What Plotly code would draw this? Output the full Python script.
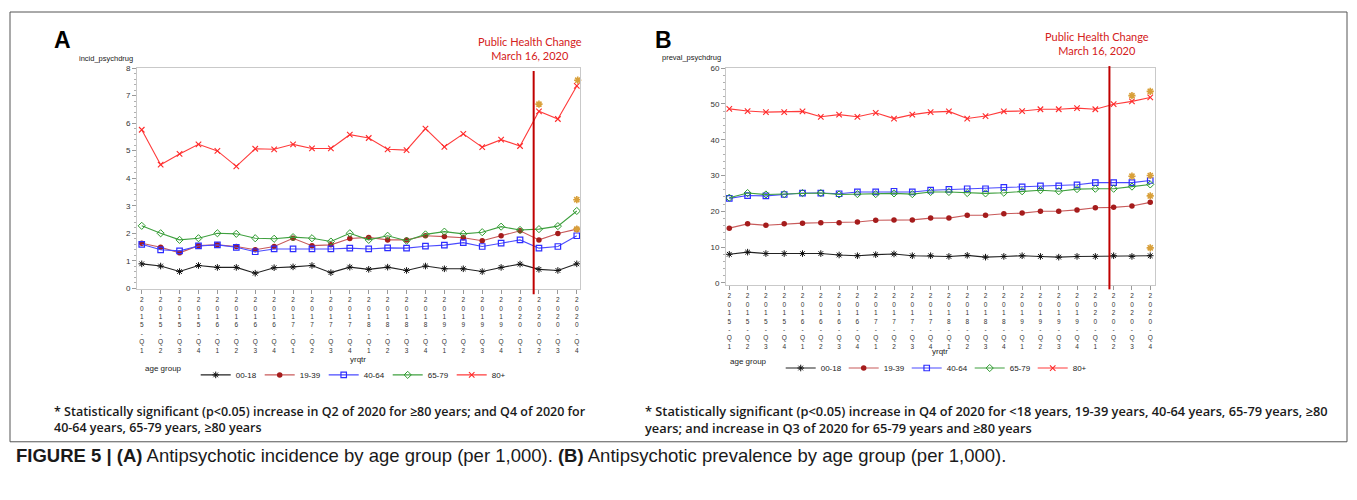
import plotly.graph_objects as go

# page body has an 8px margin: build the figure to fit inside it
OX, OY = 8, 8
W, H = 1357 - 2 * OX, 500 - 2 * OY

# ---------------- data ----------------
quarters = ["2015-Q1", "2015-Q2", "2015-Q3", "2015-Q4", "2016-Q1", "2016-Q2", "2016-Q3", "2016-Q4",
            "2017-Q1", "2017-Q2", "2017-Q3", "2017-Q4", "2018-Q1", "2018-Q2", "2018-Q3", "2018-Q4",
            "2019-Q1", "2019-Q2", "2019-Q3", "2019-Q4", "2020-Q1", "2020-Q2", "2020-Q3", "2020-Q4"]
age_groups = ["00-18", "19-39", "40-64", "65-79", "80+"]

# Panel A: incidence (per 1,000)
inc_00_18 = [0.89, 0.81, 0.61, 0.83, 0.76, 0.76, 0.55, 0.75, 0.78, 0.83, 0.57, 0.77,
             0.69, 0.77, 0.65, 0.81, 0.71, 0.71, 0.61, 0.76, 0.88, 0.69, 0.65, 0.89]
inc_19_39 = [1.64, 1.49, 1.29, 1.55, 1.58, 1.52, 1.40, 1.52, 1.82, 1.55, 1.58, 1.81,
             1.85, 1.76, 1.76, 1.91, 1.88, 1.84, 1.73, 1.91, 2.09, 1.76, 1.99, 2.15]
inc_40_64 = [1.60, 1.40, 1.36, 1.54, 1.58, 1.49, 1.33, 1.43, 1.43, 1.43, 1.43, 1.46,
             1.43, 1.47, 1.46, 1.53, 1.57, 1.66, 1.52, 1.64, 1.76, 1.46, 1.52, 1.91]
inc_65_79 = [2.27, 2.00, 1.76, 1.82, 2.00, 1.98, 1.82, 1.80, 1.86, 1.82, 1.70, 2.00,
             1.76, 1.91, 1.73, 1.96, 2.06, 1.98, 2.04, 2.24, 2.12, 2.15, 2.26, 2.81]
inc_80p = [5.76, 4.49, 4.88, 5.23, 4.99, 4.43, 5.07, 5.05, 5.23, 5.08, 5.08, 5.58,
           5.46, 5.05, 5.02, 5.80, 5.14, 5.61, 5.13, 5.40, 5.17, 6.43, 6.15, 7.35]

# Panel B: prevalence (per 1,000)
prev_00_18 = [8.0, 8.6, 8.2, 8.2, 8.2, 8.2, 7.8, 7.6, 7.9, 8.1, 7.6, 7.6,
              7.4, 7.7, 7.2, 7.4, 7.6, 7.4, 7.2, 7.4, 7.4, 7.6, 7.4, 7.6]
prev_19_39 = [15.3, 16.5, 16.1, 16.5, 16.7, 16.8, 16.8, 17.0, 17.5, 17.6, 17.6, 18.1,
              18.1, 18.9, 18.9, 19.3, 19.5, 20.0, 20.0, 20.4, 21.0, 21.1, 21.5, 22.5]
prev_40_64 = [23.6, 24.4, 24.3, 24.7, 25.1, 25.1, 24.9, 25.4, 25.4, 25.6, 25.4, 25.9,
              26.1, 26.3, 26.3, 26.7, 26.8, 27.1, 27.1, 27.4, 28.0, 28.0, 28.0, 28.6]
prev_65_79 = [23.8, 25.1, 24.7, 24.8, 25.1, 25.1, 24.7, 24.8, 24.8, 25.0, 24.8, 25.4,
              25.4, 25.1, 25.0, 25.2, 25.6, 25.9, 25.6, 26.2, 26.3, 26.3, 26.9, 27.5]
prev_80p = [48.6, 48.0, 47.7, 47.7, 47.9, 46.4, 47.0, 46.4, 47.5, 45.9, 47.0, 47.7,
            47.9, 45.9, 46.6, 47.9, 48.0, 48.5, 48.5, 48.8, 48.5, 49.9, 50.7, 51.8]

# significance markers (x position in quarter index, y value)
sig_a_x = [21.0, 23.05, 23.0, 23.0]
sig_a_y = [6.69, 7.56, 3.22, 2.15]
sig_b_x = [22.0, 23.0, 22.0, 23.0, 23.45, 23.0, 23.0]
sig_b_y = [52.3, 53.5, 29.8, 30.0, 28.5, 24.3, 9.8]

event_pos_a = 20.72   # March 16, 2020 on the quarter axis
event_pos_b = 20.77

# ---------------- styling ----------------
styles = {
    "00-18": dict(line="#222222", marker=dict(symbol="asterisk-open", size=5.5, color="#111111",
                                              line=dict(color="#111111", width=1.0))),
    "19-39": dict(line="#c85a5a", marker=dict(symbol="circle", size=5.5, color="#a51c1c",
                                              line=dict(color="#a51c1c", width=0))),
    "40-64": dict(line="#4a4aff", marker=dict(symbol="square-open", size=5.5, color="#2d2dff",
                                              line=dict(color="#2d2dff", width=1.2))),
    "65-79": dict(line="#3fa03f", marker=dict(symbol="diamond-open", size=5.5, color="#2e9a2e",
                                              line=dict(color="#2e9a2e", width=1.0))),
    "80+": dict(line="#ff3b3b", marker=dict(symbol="x-thin-open", size=5.5, color="#ff2a2a",
                                            line=dict(color="#ff2a2a", width=1.1))),
}

series_a = [inc_00_18, inc_19_39, inc_40_64, inc_65_79, inc_80p]
series_b = [prev_00_18, prev_19_39, prev_40_64, prev_65_79, prev_80p]

xidx = list(range(len(quarters)))
ticktext = ["<br>".join(list(q)) for q in quarters]

fig = go.Figure()

for g, ya, yb in zip(age_groups, series_a, series_b):
    st = styles[g]
    fig.add_trace(go.Scatter(x=xidx, y=ya, mode="lines+markers", name=g,
                             line=dict(color=st["line"], width=1.1), marker=st["marker"],
                             xaxis="x", yaxis="y", legend="legend", cliponaxis=False))
    fig.add_trace(go.Scatter(x=xidx, y=yb, mode="lines+markers", name=g,
                             line=dict(color=st["line"], width=1.1), marker=st["marker"],
                             xaxis="x2", yaxis="y2", legend="legend2", cliponaxis=False))

star_marker = dict(symbol="asterisk-open", size=6, color="#d9a03a",
                   line=dict(color="#d9a03a", width=1.6))
fig.add_trace(go.Scatter(x=sig_a_x, y=sig_a_y, mode="markers", marker=star_marker,
                         showlegend=False, xaxis="x", yaxis="y", cliponaxis=False))
fig.add_trace(go.Scatter(x=sig_b_x, y=sig_b_y, mode="markers", marker=star_marker,
                         showlegend=False, xaxis="x2", yaxis="y2", cliponaxis=False))


def px(xp):
    return (xp - OX) / W


def py(yp):
    return 1 - (yp - OY) / H


axis_common = dict(showline=True, mirror=True, linecolor="#c9c9c9", linewidth=1,
                   showgrid=False, zeroline=False, ticks="outside", tickcolor="#9a9a9a",
                   ticklen=4, tickfont=dict(family="Liberation Sans", size=8, color="#333333"))
xtickfont = dict(family="Liberation Sans", size=6.5, color="#333333")
legend_font = dict(family="Liberation Sans", size=8, color="#222")

fig.update_layout(
    width=W, height=H, margin=dict(l=0, r=0, t=0, b=0),
    paper_bgcolor="white", plot_bgcolor="white",
    xaxis=dict(domain=[px(137), px(580)], range=[-0.25, 23.17], tickmode="array",
               tickvals=xidx, ticktext=ticktext, anchor="y", **{**axis_common, "tickfont": xtickfont}),
    yaxis=dict(domain=[py(290), py(65)], range=[-0.036, 8], tickmode="linear", tick0=0, dtick=1,
               anchor="x", minor=dict(ticks="outside", ticklen=2, tickcolor="#b0b0b0", dtick=0.2),
               **axis_common),
    xaxis2=dict(domain=[px(726), px(1155)], range=[-0.18, 23.26], tickmode="array",
                tickvals=xidx, ticktext=ticktext, anchor="y2", **{**axis_common, "tickfont": xtickfont}),
    yaxis2=dict(domain=[py(286), py(65)], range=[-0.69, 60], tickmode="linear", tick0=0, dtick=10,
                anchor="x2", minor=dict(ticks="outside", ticklen=2, tickcolor="#b0b0b0", dtick=2),
                **axis_common),
    legend=dict(orientation="h", x=px(143), y=py(377), xanchor="left", yanchor="middle",
                title=dict(text="age group   ", side="left", font=legend_font),
                font=legend_font, itemwidth=30, entrywidth=19, bgcolor="rgba(0,0,0,0)"),
    legend2=dict(orientation="h", x=px(728), y=py(370), xanchor="left", yanchor="middle",
                 title=dict(text="age group   ", side="left", font=legend_font),
                 font=legend_font, itemwidth=30, entrywidth=18, bgcolor="rgba(0,0,0,0)"),
    showlegend=True,
)

# event lines
fig.add_shape(type="line", xref="x", yref="paper", x0=event_pos_a, x1=event_pos_a,
              y0=py(295), y1=py(68), line=dict(color="#c00000", width=2))
fig.add_shape(type="line", xref="x2", yref="paper", x0=event_pos_b, x1=event_pos_b,
              y0=py(290), y1=py(63), line=dict(color="#c00000", width=2))

# frame
fig.add_shape(type="rect", xref="paper", yref="paper", x0=px(10), x1=px(1347), y0=py(445), y1=py(8),
              line=dict(color="#555555", width=1))

anns = []


def ann(text, x, y, size, color="#222", family="Liberation Sans", xanchor="center", align="center",
        weight=None):
    f = dict(family=family, size=size, color=color)
    if weight:
        f["weight"] = weight
    anns.append(dict(text=text, x=px(x), y=py(y), xref="paper", yref="paper", showarrow=False,
                     xanchor=xanchor, yanchor="middle", align=align, font=f))


ann("<b>A</b>", 62, 36, 23, color="#000")
ann("<b>B</b>", 663, 36, 23, color="#000")
ann("incid_psychdrug", 135, 55, 7.5, xanchor="right")
ann("preval_psychdrug", 723, 54, 7.5, xanchor="right")
ann("Public Health Change<br>March 16, 2020", 530, 45, 11, color="#d42020", family="Lato")
ann("Public Health Change<br>March 16, 2020", 1097, 40, 11, color="#d42020", family="Lato")
ann("yrqtr", 358, 361, 8)
ann("yrqtr", 940, 353, 8)
ann("* Statistically significant (p<0.05) increase in Q2 of 2020 for ≥80 years; and Q4 of 2020 for<br>"
    "40-64 years, 65-79 years, ≥80 years", 52, 422, 12.5, color="#1a1a1a", family="Open Sans",
    xanchor="left", align="left", weight=600)
ann("* Statistically significant (p<0.05) increase in Q4 of 2020 for <18 years, 19-39 years, 40-64 years, 65-79 years, ≥80<br>"
    "years; and increase in Q3 of 2020 for 65-79 years and ≥80 years", 643, 422, 12.8, color="#1a1a1a",
    family="Open Sans", xanchor="left", align="left", weight=600)
ann("<b>FIGURE 5 | (A)</b> Antipsychotic incidence by age group (per 1,000). <b>(B)</b> Antipsychotic prevalence by age group (per 1,000).",
    14, 459, 18.5, color="#1a1a1a", family="Liberation Sans", xanchor="left", align="left")

fig.update_layout(annotations=anns)

fig.write_html("out.html")
